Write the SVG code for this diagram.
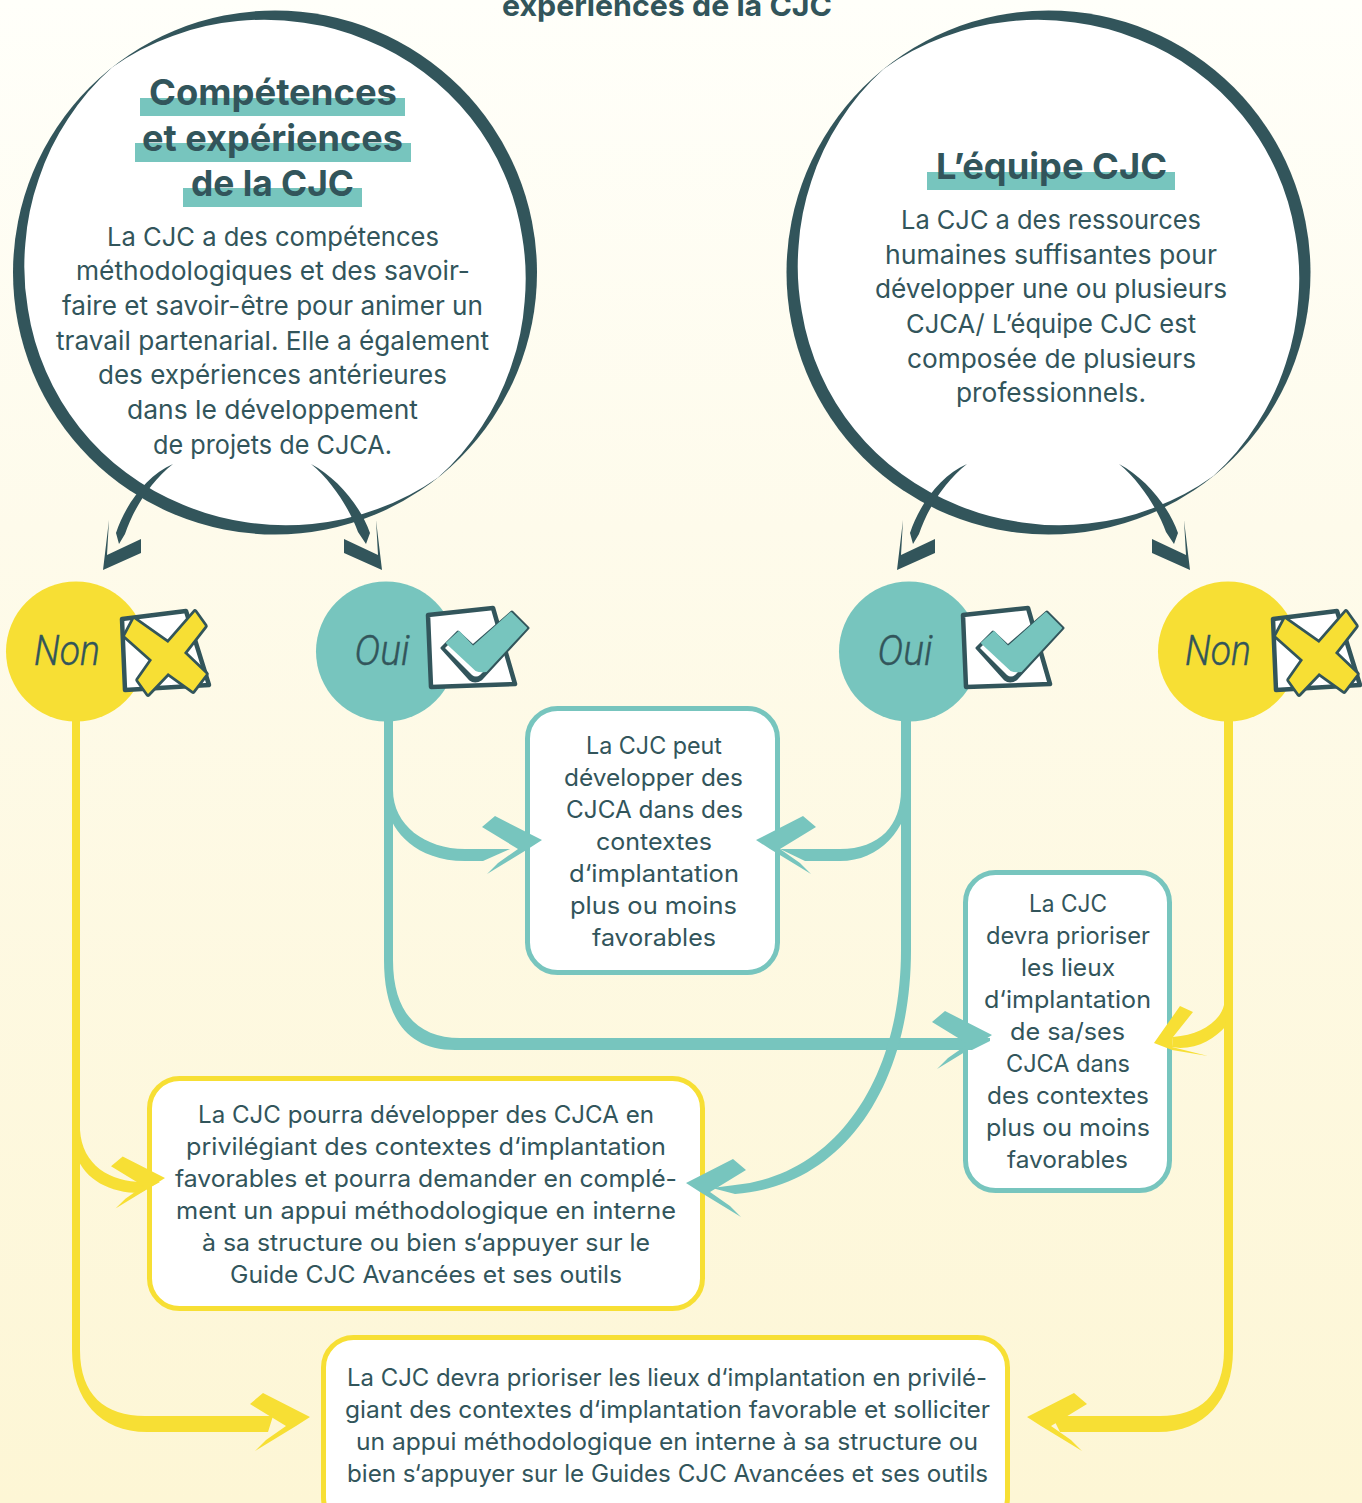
<svg xmlns="http://www.w3.org/2000/svg" width="1362" height="1503" viewBox="0 0 1362 1503">
<style>
text{font-family:"Inter","Noto Sans",sans-serif;fill:#32555b;text-anchor:middle}
.b{font-size:26px}
.s{font-size:24px}
.t{font-size:36px;font-weight:700}
.h{font-size:29px;font-weight:700}
.i{font-size:42px;font-style:italic;font-family:"Roboto","Noto Sans",sans-serif;font-weight:300;stroke:#32555b;stroke-width:.4}
.dark{fill:#32555b}
.teal{fill:#77c5be}
.yel{fill:#f7df34}
.boxT{fill:#fff;stroke:#77c5be;stroke-width:5}
.boxY{fill:#fff;stroke:#f7df34;stroke-width:5}
.cb{fill:#fff;stroke:#32555b;stroke-width:4.5;stroke-linejoin:round}
</style>
<defs>
<linearGradient id="bg" x1="0" y1="0" x2="0" y2="1">
<stop offset="0" stop-color="#fffffa"/><stop offset="0.35" stop-color="#fefbeb"/><stop offset="1" stop-color="#fdf6d5"/>
</linearGradient>
<path id="ringWhite" fill="#fff" d="M262,0 A250,250 0 0 1 249,66.7 A250,250 0 0 1 220.1,127.05 A250,250 0 0 1 177.7,177.7 A250,250 0 0 1 124.9,216.3 A250,250 0 0 1 64.6,241 A250,250 0 0 1 0,249.5 A250,250 0 0 1 -64.6,241 A250,250 0 0 1 -124.9,216.3 A250,250 0 0 1 -177.7,177.7 A250,250 0 0 1 -220.1,127.05 A250,250 0 0 1 -249,66.7 A250,250 0 0 1 -262,0 A250,250 0 0 1 -249,-66.7 A250,250 0 0 1 -220.1,-127.05 A250,250 0 0 1 -177.7,-177.7 A250,250 0 0 1 -124.9,-216.3 A250,250 0 0 1 -64.6,-241 A250,250 0 0 1 0,-249.5 A250,250 0 0 1 64.6,-241 A250,250 0 0 1 124.9,-216.3 A250,250 0 0 1 177.7,-177.7 A250,250 0 0 1 220.1,-127.05 A250,250 0 0 1 249,-66.7 A250,250 0 0 1 262,0 Z"/>
<path id="head" d="M-60,-13 L-47,-24 L0,0 L-14,9 L-55,34 L-44,23 L-24,9 Z"/>
<path id="dnL" d="M173,464 C147,475 125,505 116,533 L119,544 L125,534 C133,510 150,482 173,464 Z M109,520 L103,570 L141,553 L141,539 L107,555 Z"/>
<path id="dnR" d="M311,464 C337,478 360,505 370,533 L366,544 L358,532 C350,510 333,482 311,464 Z M376,520 L382,570 L344,553 L344,539 L378,555 Z"/>
<g id="iconOui">
<path class="cb" d="M428,615 L493,608 L515,684 L431,687 Z"/>
<path class="dark" stroke="#32555b" stroke-width="3" stroke-linejoin="round" d="M442,648 L458,632 L473,646 L512,612 L528,628 L481,679 Q475,683 470,679 Z"/>
<path fill="#fff" d="M445,648 L458,635 L473,650 L510,616 L524,631 L480,675 Q476,678 472,675 Z"/>
<path class="teal" stroke="#77c5be" stroke-width="2" stroke-linejoin="round" d="M447,643 L459,632 L473,647 L511,613 L526,628 L486,671 Q480,672 476,670 Z"/>
</g>
<g id="iconNon">
<path class="cb" d="M122,619 L186,611 L209,685 L125,690 Z"/>
<path class="yel" stroke="#32555b" stroke-width="5.5" stroke-linejoin="round" paint-order="stroke" d="M134,619 L168,643 L195,612 L205,626 L184,653 L206,674 L193,691 L168,673 L148,694 L138,680 L152,660 L125,636 Z"/>
</g>
</defs>
<rect width="1362" height="1503" fill="url(#bg)"/>
<text class="h" x="667" y="16" textLength="330" lengthAdjust="spacingAndGlyphs">expériences de la CJC</text>

<g id="node-competences">
<circle class="dark" cx="275" cy="272.5" r="262"/>
<use href="#ringWhite" transform="translate(275,272.5) rotate(51.6)"/>
<rect class="teal" x="140" y="98" width="265" height="18"/>
<rect class="teal" x="135" y="143" width="276" height="19"/>
<rect class="teal" x="183" y="188" width="179" height="19"/>
<text class="t" x="273" y="105" textLength="248" lengthAdjust="spacingAndGlyphs">Compétences</text>
<text class="t" x="272.5" y="151" textLength="261" lengthAdjust="spacingAndGlyphs">et expériences</text>
<text class="t" x="272.5" y="196" textLength="163" lengthAdjust="spacingAndGlyphs">de la CJC</text>
<text class="b" x="273" y="246" textLength="332" lengthAdjust="spacingAndGlyphs">La CJC a des compétences</text>
<text class="b" x="273" y="280" textLength="394" lengthAdjust="spacingAndGlyphs">méthodologiques et des savoir-</text>
<text class="b" x="272.5" y="315" textLength="421" lengthAdjust="spacingAndGlyphs">faire et savoir-être pour animer un</text>
<text class="b" x="272.5" y="350" textLength="433" lengthAdjust="spacingAndGlyphs">travail partenarial. Elle a également</text>
<text class="b" x="272.5" y="384" textLength="349" lengthAdjust="spacingAndGlyphs">des expériences antérieures</text>
<text class="b" x="272.5" y="419" textLength="291" lengthAdjust="spacingAndGlyphs">dans le développement</text>
<text class="b" x="272.5" y="454" textLength="239" lengthAdjust="spacingAndGlyphs">de projets de CJCA.</text>
</g>

<g id="node-equipe">
<circle class="dark" cx="1048.5" cy="272.5" r="262"/>
<use href="#ringWhite" transform="translate(1048.5,272.5) rotate(51)"/>
<rect class="teal" x="927" y="172" width="248" height="18"/>
<text class="t" x="1051.5" y="179" textLength="231" lengthAdjust="spacingAndGlyphs">L’équipe CJC</text>
<text class="b" x="1051" y="229" textLength="300" lengthAdjust="spacingAndGlyphs">La CJC a des ressources</text>
<text class="b" x="1051" y="264" textLength="332" lengthAdjust="spacingAndGlyphs">humaines suffisantes pour</text>
<text class="b" x="1051" y="298" textLength="352" lengthAdjust="spacingAndGlyphs">développer une ou plusieurs</text>
<text class="b" x="1051" y="333" textLength="290" lengthAdjust="spacingAndGlyphs">CJCA/ L’équipe CJC est</text>
<text class="b" x="1051.5" y="368" textLength="289" lengthAdjust="spacingAndGlyphs">composée de plusieurs</text>
<text class="b" x="1051" y="402" textLength="190" lengthAdjust="spacingAndGlyphs">professionnels.</text>
</g>

<g id="node-non-1">
<circle class="yel" cx="76" cy="651.5" r="70"/>
<use href="#iconNon"/>
<text class="i" x="67" y="665" textLength="66" lengthAdjust="spacingAndGlyphs">Non</text>
</g>
<g id="node-oui-1">
<circle class="teal" cx="386" cy="651.5" r="70"/>
<use href="#iconOui"/>
<text class="i" x="382" y="665" textLength="55" lengthAdjust="spacingAndGlyphs">Oui</text>
</g>
<g id="node-oui-2">
<circle class="teal" cx="909" cy="651.5" r="70"/>
<use href="#iconOui" x="535"/>
<text class="i" x="905" y="665" textLength="55" lengthAdjust="spacingAndGlyphs">Oui</text>
</g>
<g id="node-non-2">
<circle class="yel" cx="1228" cy="651.5" r="70"/>
<use href="#iconNon" x="1151"/>
<text class="i" x="1218" y="665" textLength="66" lengthAdjust="spacingAndGlyphs">Non</text>
</g>

<g id="node-box-1">
<rect class="boxT" x="527.5" y="708.5" width="250" height="264" rx="30"/>
<text class="s" x="654" y="754" textLength="136" lengthAdjust="spacingAndGlyphs">La CJC peut</text>
<text class="s" x="653.5" y="786" textLength="179" lengthAdjust="spacingAndGlyphs">développer des</text>
<text class="s" x="654.5" y="818" textLength="177" lengthAdjust="spacingAndGlyphs">CJCA dans des</text>
<text class="s" x="654" y="850" textLength="116" lengthAdjust="spacingAndGlyphs">contextes</text>
<text class="s" x="654" y="882" textLength="170" lengthAdjust="spacingAndGlyphs">d‘implantation</text>
<text class="s" x="653.5" y="914" textLength="167" lengthAdjust="spacingAndGlyphs">plus ou moins</text>
<text class="s" x="654" y="946" textLength="124" lengthAdjust="spacingAndGlyphs">favorables</text>
</g>
<g id="node-box-2">
<rect class="boxT" x="965.5" y="872.5" width="204" height="318" rx="30"/>
<text class="s" x="1068" y="912" textLength="78" lengthAdjust="spacingAndGlyphs">La CJC</text>
<text class="s" x="1068" y="944" textLength="164" lengthAdjust="spacingAndGlyphs">devra prioriser</text>
<text class="s" x="1068" y="976" textLength="94" lengthAdjust="spacingAndGlyphs">les lieux</text>
<text class="s" x="1067.5" y="1008" textLength="167" lengthAdjust="spacingAndGlyphs">d‘implantation</text>
<text class="s" x="1067.5" y="1040" textLength="115" lengthAdjust="spacingAndGlyphs">de sa/ses</text>
<text class="s" x="1068" y="1072" textLength="124" lengthAdjust="spacingAndGlyphs">CJCA dans</text>
<text class="s" x="1068" y="1104" textLength="162" lengthAdjust="spacingAndGlyphs">des contextes</text>
<text class="s" x="1068" y="1136" textLength="164" lengthAdjust="spacingAndGlyphs">plus ou moins</text>
<text class="s" x="1067.5" y="1168" textLength="121" lengthAdjust="spacingAndGlyphs">favorables</text>
</g>
<g id="node-box-3">
<rect class="boxY" x="149.5" y="1078.5" width="553" height="230" rx="30"/>
<text class="s" x="426" y="1123" textLength="456" lengthAdjust="spacingAndGlyphs">La CJC pourra développer des CJCA en</text>
<text class="s" x="426" y="1155" textLength="480" lengthAdjust="spacingAndGlyphs">privilégiant des contextes d‘implantation</text>
<text class="s" x="426" y="1187" textLength="502" lengthAdjust="spacingAndGlyphs">favorables et pourra demander en complé-</text>
<text class="s" x="426" y="1219" textLength="500" lengthAdjust="spacingAndGlyphs">ment un appui méthodologique en interne</text>
<text class="s" x="426" y="1251" textLength="448" lengthAdjust="spacingAndGlyphs">à sa structure ou bien s‘appuyer sur le</text>
<text class="s" x="426" y="1283" textLength="392" lengthAdjust="spacingAndGlyphs">Guide CJC Avancées et ses outils</text>
</g>
<g id="node-box-4">
<rect class="boxY" x="323.5" y="1337.5" width="684" height="190" rx="30"/>
<text class="s" x="667" y="1386" textLength="640" lengthAdjust="spacingAndGlyphs">La CJC devra prioriser les lieux d‘implantation en privilé-</text>
<text class="s" x="667.5" y="1418" textLength="645" lengthAdjust="spacingAndGlyphs">giant des contextes d‘implantation favorable et solliciter</text>
<text class="s" x="667" y="1450" textLength="622" lengthAdjust="spacingAndGlyphs">un appui méthodologique en interne à sa structure ou</text>
<text class="s" x="667.5" y="1482" textLength="641" lengthAdjust="spacingAndGlyphs">bien s‘appuyer sur le Guides CJC Avancées et ses outils</text>
</g>

<g id="connectors">
<use href="#dnL" class="dark"/>
<use href="#dnR" class="dark"/>
<use href="#dnL" class="dark" x="794"/>
<use href="#dnR" class="dark" x="808"/>

<path class="teal" d="M384,720 H393 V790 C393,825 425,849 465,849 H510 L483,861 H465 C415,861 392,830 388,810 Z"/>
<use href="#head" class="teal" transform="translate(542,840)"/>
<path class="teal" d="M384,720 H393 V960 C393,1015 420,1038 460,1038 H972 L990,1038 V1041 L972,1050 H455 C405,1050 384,1015 384,960 Z"/>
<use href="#head" class="teal" transform="translate(992,1035)"/>

<path class="teal" d="M901,720 H911 V790 C907,830 880,861 840,861 H805 L780,849 H840 C880,849 901,825 901,790 Z"/>
<use href="#head" class="teal" transform="translate(756,840) scale(-1,1)"/>
<path class="teal" d="M901,720 H911 V950 C911,1090 840,1187 735,1194 L712,1188 L735,1185 C835,1175 901,1080 901,950 Z"/>
<use href="#head" class="teal" transform="translate(686,1183) scale(-1,1)"/>

<path class="yel" d="M72,720 H80 V1130 C82,1165 110,1182 143,1182 H160 L140,1193 C110,1193 85,1180 76,1155 Z"/>
<use href="#head" class="yel" transform="translate(165,1178) scale(.9)"/>
<path class="yel" d="M72,720 H80 V1350 C80,1395 105,1416 145,1416 H273 L268,1432 H147 C100,1432 72,1400 72,1350 Z"/>
<use href="#head" class="yel" transform="translate(310,1417)"/>

<path class="yel" d="M1224,720 H1233 V1350 C1233,1400 1205,1432 1158,1432 H1060 L1052,1416 H1160 C1200,1416 1224,1395 1224,1350 Z"/>
<use href="#head" class="yel" transform="translate(1027,1417) scale(-1,1)"/>
<path class="yel" d="M1224,1005 C1220,1022 1200,1035 1173,1037 L1172,1047 L1180,1048 C1200,1048 1215,1038 1226,1026 Z"/>
<path class="yel" d="M1154,1043 L1180,1006 L1193,1012 L1173,1037 L1172,1047 L1208,1056 L1172,1050 Z"/>
</g>
</svg>
